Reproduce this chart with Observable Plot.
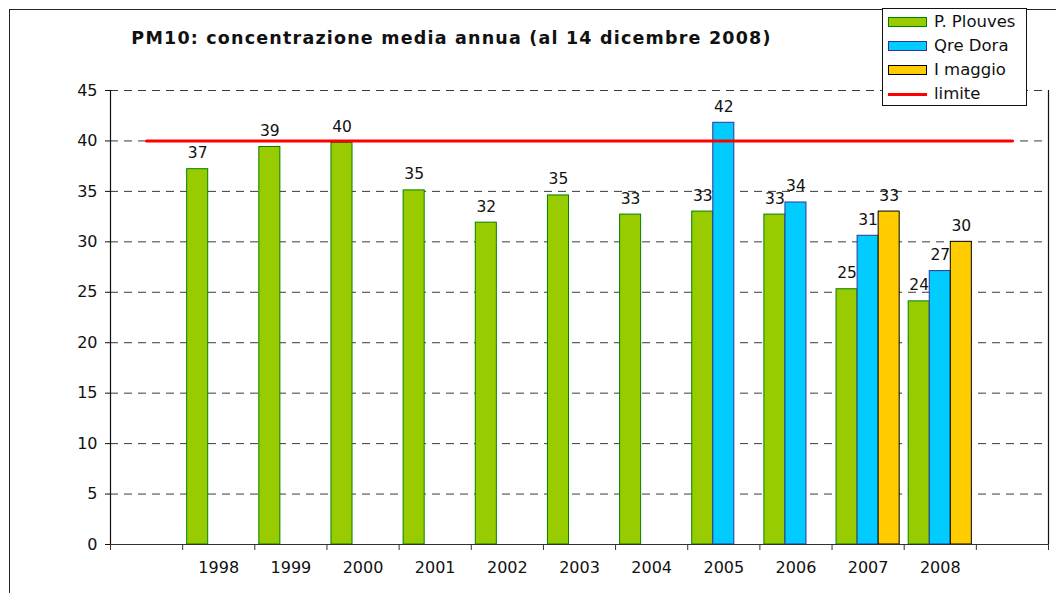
<!DOCTYPE html>
<html>
<head>
<meta charset="utf-8">
<script src="https://cdn.jsdelivr.net/npm/d3@7"></script>
<script src="https://cdn.jsdelivr.net/npm/@observablehq/plot@0.6"></script>
<style>
  html, body { margin: 0; padding: 0; background: #fff; }
  #wrap { position: relative; width: 1056px; height: 593px; overflow: hidden; background: #fff;
          font-family: "DejaVu Sans", Verdana, sans-serif; color: #111; }
  #border { position: absolute; left: 8.5px; top: 8.5px; width: 1300px; height: 900px;
            border: 1.5px solid #222; box-sizing: border-box; }
  #chart { position: absolute; left: 0; top: 0; }
  #title { position: absolute; left: 0; top: 28px; width: 903px; text-align: center;
           font-weight: bold; font-size: 17.5px; letter-spacing: 1.2px; white-space: nowrap; }
  #legend { position: absolute; left: 882px; top: 8px; width: 145px; height: 98px;
            border: 1px solid #111; background: #fff; box-sizing: border-box; }
  .item { position: absolute; left: 5px; height: 20px; font-size: 16.5px; line-height: 20px; white-space: nowrap; }
  .sw { position: absolute; left: 0; top: 5px; width: 39px; height: 10px; box-sizing: border-box; }
  .ln { position: absolute; left: 0; top: 8.5px; width: 39px; height: 3px; }
  .lab { position: absolute; left: 46px; top: 0; }
</style>
</head>
<body>
<div id="wrap">
  <div id="border"></div>
  <div id="chart"></div>
  <div id="title"></div>
  <div id="legend"></div>
</div>
<script>
// ---- data ----
const titleText = "PM10: concentrazione media annua (al 14 dicembre 2008)";
const years = ["1998", "1999", "2000", "2001", "2002", "2003", "2004", "2005", "2006", "2007", "2008"];
const plouves = [37.2, 39.4, 39.8, 35.1, 31.9, 34.6, 32.7, 33.0, 32.7, 25.3, 24.1];
const qreDora  = [null, null, null, null, null, null, null, 41.8, 33.9, 30.6, 27.1];
const iMaggio  = [null, null, null, null, null, null, null, null, null, 33.0, 30.0];
const limite = 40;
const seriesNames = ["P. Plouves", "Qre Dora", "I maggio"];
const seriesFill = ["#99cc00", "#00ccff", "#ffcc00"];
const seriesStroke = ["#008000", "#333399", "#000000"];
const limiteName = "limite";
const limiteColor = "#ff0000";
const yTicks = [0, 5, 10, 15, 20, 25, 30, 35, 40, 45];

// category domain: an empty slot before and after the years
const cats = ["_start", ...years, "_end"];
const seriesValues = [plouves, qreDora, iMaggio];

const rows = [];
seriesValues.forEach((vals, k) => {
  years.forEach((y, i) => {
    if (vals[i] != null) rows.push({year: y, series: k, value: vals[i]});
  });
});
const limitRows = cats.map(c => ({cat: c, value: limite}));

// ---- layout ----
const W = 1056, H = 593, ML = 110, MR = 8, MT = 90, MB = 49;
const bw = (W - ML - MR) / cats.length;
const gap = bw * 0.0625;
const bwid = (bw - 2 * gap) / 3;

const marks = [];
// dashed gridlines
marks.push(Plot.ruleY(yTicks.filter(t => t > 0), {stroke: "#3a3a3a", strokeWidth: 1, strokeDasharray: "8,6"}));
// bars + labels
seriesNames.forEach((name, k) => {
  const data = rows.filter(d => d.series === k);
  const insetLeft = gap + k * bwid;
  const insetRight = bw - insetLeft - bwid;
  marks.push(Plot.barY(data, {
    x: "year", y: "value", fill: seriesFill[k], stroke: seriesStroke[k], strokeWidth: 1,
    insetLeft, insetRight
  }));
  marks.push(Plot.text(data, {
    x: "year", y: "value", text: d => String(Math.round(d.value)),
    dx: insetLeft + bwid / 2 - bw / 2, dy: -16, fontSize: 15.5, fill: "#111"
  }));
});
// axes lines
marks.push(Plot.ruleY([0], {stroke: "#333", strokeWidth: 1.2}));
marks.push(Plot.ruleX([cats[0]], {x: d => d, dx: -bw / 2, stroke: "#111", strokeWidth: 1.2}));
marks.push(Plot.ruleX([cats[cats.length - 1]], {x: d => d, dx: bw / 2, stroke: "#111", strokeWidth: 1.2}));
// x tick marks at category boundaries
marks.push(Plot.ruleX(cats, {x: d => d, y1: 0, y2: 0, insetBottom: -6, dx: -bw / 2, stroke: "#333"}));
marks.push(Plot.ruleX([cats[cats.length - 1]], {x: d => d, y1: 0, y2: 0, insetBottom: -6, dx: bw / 2, stroke: "#333"}));
// limit line
marks.push(Plot.lineY(limitRows, {x: "cat", y: "value", stroke: limiteColor, strokeWidth: 3}));

const chart = Plot.plot({
  width: W, height: H,
  marginLeft: ML, marginRight: MR, marginTop: MT, marginBottom: MB,
  style: {fontFamily: "'DejaVu Sans', Verdana, sans-serif", fontSize: "16px", color: "#111", background: "transparent"},
  x: {type: "band", domain: cats, padding: 0, round: false, tickSize: 0, tickPadding: 17,
      tickFormat: d => d.startsWith("_") ? "" : d, label: null},
  y: {domain: [0, 45], ticks: yTicks, tickSize: 5, tickPadding: 8, label: null},
  marks
});
document.getElementById("chart").appendChild(chart);

// title
document.getElementById("title").textContent = titleText;

// legend
const legend = document.getElementById("legend");
const rowTops = [13, 37, 61, 85];
seriesNames.forEach((name, k) => {
  const it = document.createElement("div");
  it.className = "item";
  it.style.top = (rowTops[k] - 10) + "px";
  it.innerHTML = `<div class="sw" style="background:${seriesFill[k]};border:1px solid ${seriesStroke[k]}"></div><span class="lab"></span>`;
  it.querySelector(".lab").textContent = name;
  legend.appendChild(it);
});
{
  const it = document.createElement("div");
  it.className = "item";
  it.style.top = (rowTops[3] - 10) + "px";
  it.innerHTML = `<div class="ln" style="background:${limiteColor}"></div><span class="lab"></span>`;
  it.querySelector(".lab").textContent = limiteName;
  legend.appendChild(it);
}
</script>
</body>
</html>
